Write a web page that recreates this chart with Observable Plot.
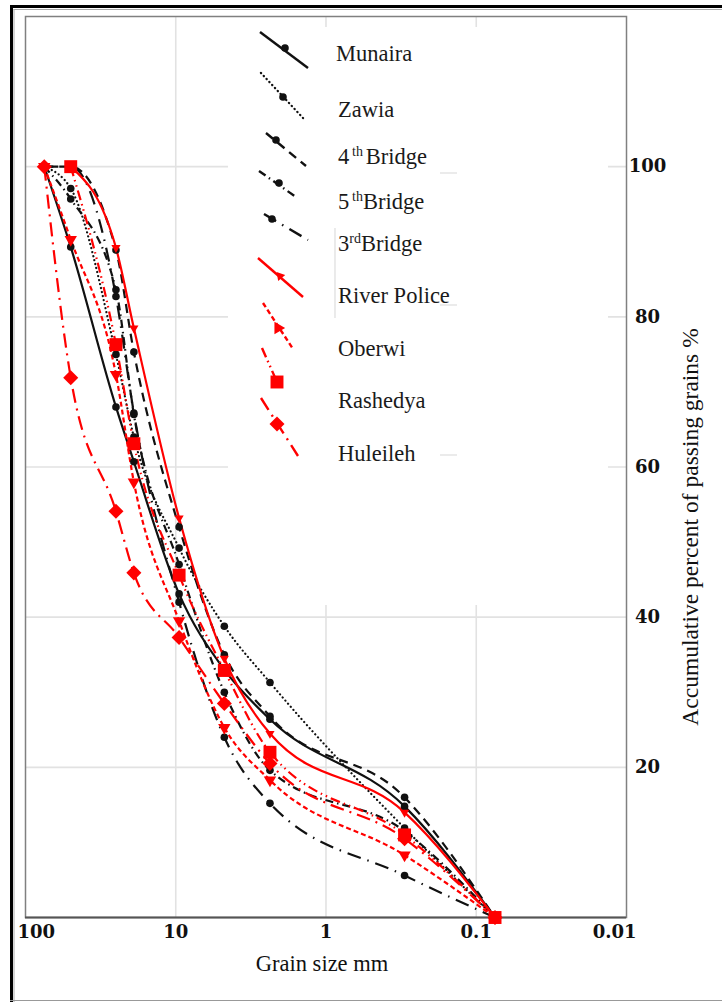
<!DOCTYPE html>
<html><head><meta charset="utf-8">
<script src="https://cdn.jsdelivr.net/npm/d3@7"></script>
<script src="https://cdn.jsdelivr.net/npm/@observablehq/plot@0.6"></script>
<style>
html,body{margin:0;padding:0;background:#fff;}
#chart{width:722px;height:1002px;overflow:hidden;}
</style></head><body><div id="chart"></div>
<script>
// ---- data ----
const sizes = [75, 50, 25, 19, 9.5, 4.75, 2.36, 0.3, 0.075];
const xTicks = [100, 10, 1, 0.1, 0.01];
const xTickLabels = ["100", "10", "1", "0.1", "0.01"];
const yTicks = [20, 40, 60, 80, 100];
const seriesNames = ["Munaira", "Zawia", "4th Bridge", "5th Bridge", "3rd Bridge", "River Police", "Oberwi", "Rashedya", "Huleileh"];
const munaira     = [100, 89.3, 68.0, 60.7, 43.1, 33.0, 26.4, 14.8, 0];
const zawia       = [100, 97.1, 75.0, 64.0, 49.2, 38.8, 31.3, 11.9, 0];
const bridge4     = [100, 100, 88.9, 75.3, 52.0, 35.0, 26.8, 16.0, 0];
const bridge5     = [100, 95.7, 83.6, 67.0, 47.0, 30.0, 19.6, 11.5, 0];
const bridge3     = [100, 100, 82.7, 67.2, 42.0, 24.0, 15.2, 5.6, 0];
const riverPolice = [null, 100, 89.2, 78.5, 53.2, 34.5, 24.5, 14.0, 0];
const oberwi      = [100, 90.3, 72.3, 58.0, 39.5, 25.3, 18.3, 8.3, 0];
const rashedya    = [null, 100, 76.3, 63.1, 45.6, 32.9, 22.0, 11.0, 0];
const huleileh    = [100, 71.9, 54.1, 45.9, 37.3, 28.5, 20.5, 10.5, 0];
const seriesValues = [munaira, zawia, bridge4, bridge5, bridge3, riverPolice, oberwi, rashedya, huleileh];
const xTitle = "Grain size mm";
const yTitle = "Accumulative percent of passing grains %";

// ---- styles ----
const RED = "#ff0000", BLK = "#111111";
const styles = {
  "Munaira":      {color: BLK, dash: null, symbol: "circle", r: 3.8, rotate: 0},
  "Zawia":        {color: BLK, dash: "0.1 4", cap: "round", symbol: "circle", r: 3.8, rotate: 0},
  "4th Bridge":   {color: BLK, dash: "9 6", symbol: "circle", r: 3.8, rotate: 0},
  "5th Bridge":   {color: BLK, dash: "8 4 1.5 4", symbol: "circle", r: 3.8, rotate: 0},
  "3rd Bridge":   {color: BLK, dash: "14 7 1.5 7", symbol: "circle", r: 3.8, rotate: 0},
  "River Police": {color: RED, dash: null, symbol: "triangle", r: 3.4, rotate: 180},
  "Oberwi":       {color: RED, dash: "5 3", symbol: "triangle", r: 4.6, rotate: 180},
  "Rashedya":     {color: RED, dash: "10 4 1.5 4 1.5 4", symbol: "square", r: 7.3, rotate: 0},
  "Huleileh":     {color: RED, dash: "14 6 2 6", symbol: "square", r: 6, rotate: 45}
};

const rows = [];
seriesNames.forEach((name, i) => {
  seriesValues[i].forEach((v, j) => { if (v != null) rows.push({series: name, size: sizes[j], pct: v}); });
});

const lineMarks = seriesNames.map(name => {
  const s = styles[name];
  return Plot.line(rows.filter(d => d.series === name), {
    x: "size", y: "pct", stroke: s.color, strokeWidth: 2.2,
    strokeDasharray: s.dash || undefined, strokeLinecap: s.cap || "butt",
    curve: "monotone-x"
  });
});
const dotOrder = ["Munaira", "Zawia", "4th Bridge", "5th Bridge", "3rd Bridge", "River Police", "Oberwi", "Huleileh", "Rashedya"];
const dotMarks = dotOrder.map(name => {
  const s = styles[name];
  return Plot.dot(rows.filter(d => d.series === name), {
    x: "size", y: "pct", symbol: s.symbol, r: s.r, fill: s.color, stroke: "none", rotate: s.rotate
  });
});

const tickFont = {fontFamily: "DejaVu Serif", fontWeight: "bold", fontSize: 18, fill: "#111"};
const labelOf = d => xTickLabels[xTicks.indexOf(d)];

const plot = Plot.plot({
  width: 722, height: 1002,
  marginLeft: 25, marginRight: 96, marginTop: 16, marginBottom: 85,
  style: {fontFamily: "Liberation Serif", background: "#fff"},
  x: {type: "log", domain: [100, 0.01], axis: null},
  y: {domain: [0, 120], axis: null},
  marks: [
    Plot.gridX(xTicks.slice(1, 4), {stroke: "#e2e2e2", strokeOpacity: 1, strokeWidth: 1.6}),
    Plot.gridY(yTicks, {stroke: "#e2e2e2", strokeOpacity: 1, strokeWidth: 1.6}),
    Plot.frame({stroke: "#808080", strokeWidth: 1.5}),
    Plot.ruleY([0], {stroke: "#555", strokeWidth: 2}),
    ...lineMarks,
    ...dotMarks,
    // x tick labels
    Plot.text([xTicks[0]], {x: d => d, text: labelOf, frameAnchor: "bottom", dy: 20, dx: -8, textAnchor: "start", ...tickFont}),
    Plot.text(xTicks.slice(1, 4), {x: d => d, text: labelOf, frameAnchor: "bottom", dy: 20, ...tickFont}),
    Plot.text([xTicks[4]], {x: d => d, text: labelOf, frameAnchor: "bottom", dy: 20, dx: 10, textAnchor: "end", ...tickFont}),
    // y tick labels (right)
    Plot.text(yTicks, {y: d => d, text: d => String(d), frameAnchor: "right", dx: 21, textAnchor: "middle", ...tickFont}),
    // x axis title
    Plot.text([xTitle], {text: d => d, frameAnchor: "bottom", dy: 53, dx: -4, fontSize: 22.5, fontFamily: "Liberation Serif", fill: "#111"})
  ]
});
document.getElementById("chart").appendChild(plot);

// ---- legend, y title & border overlay ----
const svg = d3.select(plot);
svg.append("text").attr("transform", "translate(690,527) rotate(-90)")
  .attr("text-anchor", "middle").attr("dominant-baseline", "central")
  .attr("font-family", "Liberation Serif").attr("font-size", 23.5).attr("fill", "#111").text(yTitle);

// legend background box hides gridlines
svg.append("rect").attr("x", 228).attr("y", 27).attr("width", 380).attr("height", 578).attr("fill", "#fff");
// faint artifacts of pasted legend
svg.append("line").attr("x1", 335).attr("x2", 335).attr("y1", 228).attr("y2", 318).attr("stroke", "#ddd").attr("stroke-width", 1.2);
[173, 305, 455].forEach(y => svg.append("line").attr("x1", 440).attr("x2", 457).attr("y1", y).attr("y2", y).attr("stroke", "#e4e4e4").attr("stroke-width", 1.5));

const legendLayout = [
  {x1: 260, y1: 32,  x2: 308, y2: 68,  mx: 285, my: 48,  ty: 61,  tx: 336, mrot: 0},
  {x1: 261, y1: 73,  x2: 303, y2: 118, mx: 283, my: 97,  ty: 117, tx: 338, mrot: 0},
  {x1: 266, y1: 133, x2: 306, y2: 166, mx: 276, my: 140, ty: 164, tx: 338, mrot: 0},
  {x1: 259, y1: 171, x2: 296, y2: 197, mx: 279, my: 183, ty: 209, tx: 338, mrot: 0},
  {x1: 264, y1: 214, x2: 308, y2: 240, mx: 272, my: 219, ty: 251, tx: 338, mrot: 0},
  {x1: 258, y1: 258, x2: 303, y2: 297, mx: 280, my: 276, ty: 303, tx: 338, mrot: -40},
  {x1: 263, y1: 303, x2: 293, y2: 349, mx: 278, my: 328, ty: 356, tx: 338, mrot: -30},
  {x1: 262, y1: 348, x2: 277, y2: 382, mx: 277, my: 382, ty: 408, tx: 338, mrot: 0},
  {x1: 261, y1: 398, x2: 298, y2: 456, mx: 277, my: 424, ty: 461, tx: 338, mrot: 45}
];
const symMap = {circle: d3.symbolCircle, triangle: d3.symbolTriangle, square: d3.symbolSquare};
const lg = svg.append("g").attr("font-family", "Liberation Serif").attr("font-size", 22.5)
  .attr("fill", "#1a1a1a").attr("text-anchor", "start");
seriesNames.forEach((name, i) => {
  const s = styles[name], L = legendLayout[i];
  const ln = lg.append("line").attr("x1", L.x1).attr("y1", L.y1).attr("x2", L.x2).attr("y2", L.y2)
    .attr("stroke", s.color).attr("stroke-width", 2.4).attr("stroke-linecap", s.cap || "butt");
  if (s.dash) ln.attr("stroke-dasharray", s.dash);
  lg.append("path").attr("d", d3.symbol(symMap[s.symbol], Math.PI * s.r * s.r)())
    .attr("transform", `translate(${L.mx},${L.my}) rotate(${L.mrot})`).attr("fill", s.color);
  const t = lg.append("text").attr("x", L.tx).attr("y", L.ty).attr("text-anchor", "start");
  const m = name.match(/^(\d)(st|nd|rd|th) (.*)$/);
  if (m) {
    t.append("tspan").text(m[1]);
    t.append("tspan").attr("dy", -8).attr("font-size", 14).text((m[2] === "th" ? "\u2009" : "") + m[2] + (m[2] === "th" && i === 2 ? "\u2009" : ""));
    t.append("tspan").attr("dy", 8).text(m[3]);
  } else {
    t.text(name);
  }
});

// outer page border
svg.append("line").attr("x1", 11.5).attr("x2", 11.5).attr("y1", 5).attr("y2", 1002).attr("stroke", "#000").attr("stroke-width", 3);
svg.append("line").attr("x1", 10).attr("x2", 722).attr("y1", 6.5).attr("y2", 6.5).attr("stroke", "#000").attr("stroke-width", 3);
svg.append("line").attr("x1", 13.5).attr("x2", 722).attr("y1", 9.5).attr("y2", 9.5).attr("stroke", "#aaa").attr("stroke-width", 1);
svg.append("line").attr("x1", 14).attr("x2", 14).attr("y1", 9).attr("y2", 1002).attr("stroke", "#aaa").attr("stroke-width", 1);
svg.append("line").attr("x1", 10).attr("x2", 722).attr("y1", 1000.5).attr("y2", 1000.5).attr("stroke", "#999").attr("stroke-width", 1.2);
</script></body></html>
